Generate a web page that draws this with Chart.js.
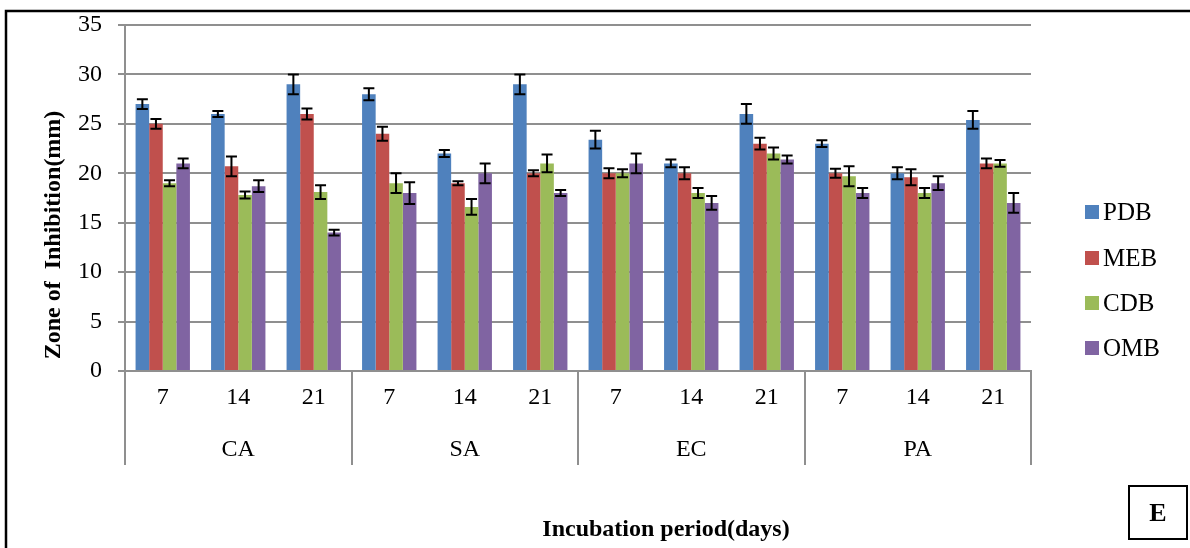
<!DOCTYPE html>
<html>
<head>
<meta charset="utf-8">
<script src="https://cdn.jsdelivr.net/npm/chart.js@4.4.0/dist/chart.umd.min.js"></script>
<style>
  html, body { margin: 0; padding: 0; background: #ffffff; }
  #wrap { position: relative; width: 1190px; height: 548px; }
</style>
</head>
<body>
<div id="wrap"><canvas id="chart" width="1190" height="548"></canvas></div>
<script>
// Test organisms and incubation periods (days)
const organisms = ['CA', 'SA', 'EC', 'PA'];
const days = ['7', '14', '21'];
const yTickValues = [0, 5, 10, 15, 20, 25, 30, 35];

// Media names
const mediaNames = ['PDB', 'MEB', 'CDB', 'OMB'];

// Zone of inhibition (mm), ordered CA 7/14/21, SA 7/14/21, EC 7/14/21, PA 7/14/21
const pdbValues = [27, 26, 29, 28, 22, 29, 23.4, 21, 26, 23, 20, 25.4];
const mebValues = [25, 20.7, 26, 24, 19, 20, 20, 20, 23, 20, 19.6, 21];
const cdbValues = [19, 17.8, 18.1, 19, 16.6, 21, 20, 18, 22, 19.7, 18, 21];
const ombValues = [21, 18.7, 14, 18, 20, 18, 21, 17, 21.4, 18, 19, 17];

// Standard deviations shown as error bars
const pdbErrors = [0.5, 0.3, 1, 0.6, 0.35, 1, 0.9, 0.4, 1, 0.35, 0.6, 0.9];
const mebErrors = [0.5, 1, 0.55, 0.7, 0.2, 0.3, 0.5, 0.6, 0.6, 0.45, 0.8, 0.5];
const cdbErrors = [0.3, 0.35, 0.7, 1, 0.8, 0.9, 0.4, 0.5, 0.6, 1, 0.5, 0.35];
const ombErrors = [0.5, 0.6, 0.3, 1.1, 1, 0.3, 1, 0.7, 0.4, 0.5, 0.7, 1];

const mediaColors = ['#4F81BD', '#C0504D', '#9BBB59', '#8064A2'];

const categoryLabels = [];
organisms.forEach(() => days.forEach(d => categoryLabels.push(d)));

const seriesValues = [pdbValues, mebValues, cdbValues, ombValues];
const seriesErrors = [pdbErrors, mebErrors, cdbErrors, ombErrors];

const datasets = mediaNames.map((name, i) => ({
  label: name,
  data: seriesValues[i],
  errors: seriesErrors[i],
  backgroundColor: mediaColors[i],
  borderWidth: 0,
  barPercentage: 1.0,
  categoryPercentage: 0.72
}));

const SERIF = '"Liberation Serif", "Times New Roman", serif';
const AXIS_GREY = '#8f8f8f';

// Error bars drawn at each bar's x position through the value scale
const errorBarPlugin = {
  id: 'errorBars',
  afterDatasetsDraw(chart) {
    const ctx = chart.ctx;
    const y = chart.scales.y;
    ctx.save();
    ctx.strokeStyle = '#000000';
    ctx.lineWidth = 2;
    chart.data.datasets.forEach((ds, di) => {
      const meta = chart.getDatasetMeta(di);
      meta.data.forEach((bar, i) => {
        const v = ds.data[i];
        const e = ds.errors[i];
        const yTop = y.getPixelForValue(v + e);
        const yBot = y.getPixelForValue(v - e);
        const cap = 5.5;
        ctx.beginPath();
        ctx.moveTo(bar.x, yTop); ctx.lineTo(bar.x, yBot);
        ctx.moveTo(bar.x - cap, yTop); ctx.lineTo(bar.x + cap, yTop);
        ctx.moveTo(bar.x - cap, yBot); ctx.lineTo(bar.x + cap, yBot);
        ctx.stroke();
      });
    });
    ctx.restore();
  }
};

// Organism tier under the day labels, axis titles, legend and panel letter
const decorPlugin = {
  id: 'decor',
  afterDraw(chart) {
    const ctx = chart.ctx;
    const x = chart.scales.x;
    const area = chart.chartArea;
    const perCat = (area.right - area.left) / categoryLabels.length;
    ctx.save();

    // group dividers
    ctx.strokeStyle = AXIS_GREY;
    ctx.lineWidth = 2;
    for (let g = 0; g <= organisms.length; g++) {
      const px = Math.round(area.left + g * days.length * perCat);
      ctx.beginPath();
      ctx.moveTo(px, area.bottom);
      ctx.lineTo(px, 465);
      ctx.stroke();
    }

    // organism labels
    ctx.fillStyle = '#000000';
    ctx.font = '24px ' + SERIF;
    ctx.textAlign = 'center';
    ctx.textBaseline = 'middle';
    organisms.forEach((name, g) => {
      const first = x.getPixelForValue(g * days.length);
      const last = x.getPixelForValue(g * days.length + days.length - 1);
      ctx.fillText(name, (first + last) / 2, 450);
    });

    // axis titles
    ctx.font = 'bold 24px ' + SERIF;
    ctx.fillText('Incubation period(days)', 666, 530);
    ctx.save();
    ctx.translate(54, 235);
    ctx.rotate(-Math.PI / 2);
    ctx.fillText('Zone of  Inhibition(mm)', 0, 0);
    ctx.restore();

    // legend
    ctx.textAlign = 'left';
    ctx.font = '25px ' + SERIF;
    const rowY = [212, 258, 303, 348];
    chart.data.datasets.forEach((ds, i) => {
      ctx.fillStyle = ds.backgroundColor;
      ctx.fillRect(1085, rowY[i] - 7, 14, 14);
      ctx.fillStyle = '#000000';
      ctx.fillText(ds.label, 1103, rowY[i] + 1);
    });

    // outer frame (left and top edges)
    ctx.strokeStyle = '#000000';
    ctx.lineWidth = 2.5;
    ctx.beginPath();
    ctx.moveTo(6, 548);
    ctx.lineTo(6, 11);
    ctx.lineTo(1190, 11);
    ctx.stroke();

    // panel letter
    ctx.lineWidth = 2;
    ctx.strokeRect(1129, 486, 58, 53);
    ctx.font = 'bold 26px ' + SERIF;
    ctx.textAlign = 'center';
    ctx.fillText('E', 1158, 514);

    ctx.restore();
  }
};

new Chart(document.getElementById('chart'), {
  type: 'bar',
  data: { labels: categoryLabels, datasets },
  options: {
    responsive: false,
    animation: false,
    devicePixelRatio: 1,
    layout: { padding: { left: 0, top: 25, right: 159, bottom: 117 } },
    plugins: { legend: { display: false }, tooltip: { enabled: false } },
    scales: {
      x: {
        grid: { display: false, drawTicks: false },
        border: { display: true, color: AXIS_GREY, width: 2 },
        ticks: {
          color: '#000000',
          font: { family: SERIF, size: 24 },
          padding: 12,
          maxRotation: 0,
          autoSkip: false
        },
        afterFit(scale) { scale.height = 60; scale.paddingLeft = 0; scale.paddingRight = 0; }
      },
      y: {
        min: 0,
        max: 35,
        afterBuildTicks(scale) { scale.ticks = yTickValues.map(v => ({ value: v })); },
        grid: { color: AXIS_GREY, lineWidth: 2, tickLength: 7, drawTicks: true },
        border: { display: true, color: AXIS_GREY, width: 2 },
        ticks: {
          color: '#000000',
          font: { family: SERIF, size: 24 },
          padding: 16
        },
        afterFit(scale) { scale.width = 125; scale.paddingTop = 0; scale.paddingBottom = 0; }
      }
    }
  },
  plugins: [errorBarPlugin, decorPlugin]
});
</script>
</body>
</html>
